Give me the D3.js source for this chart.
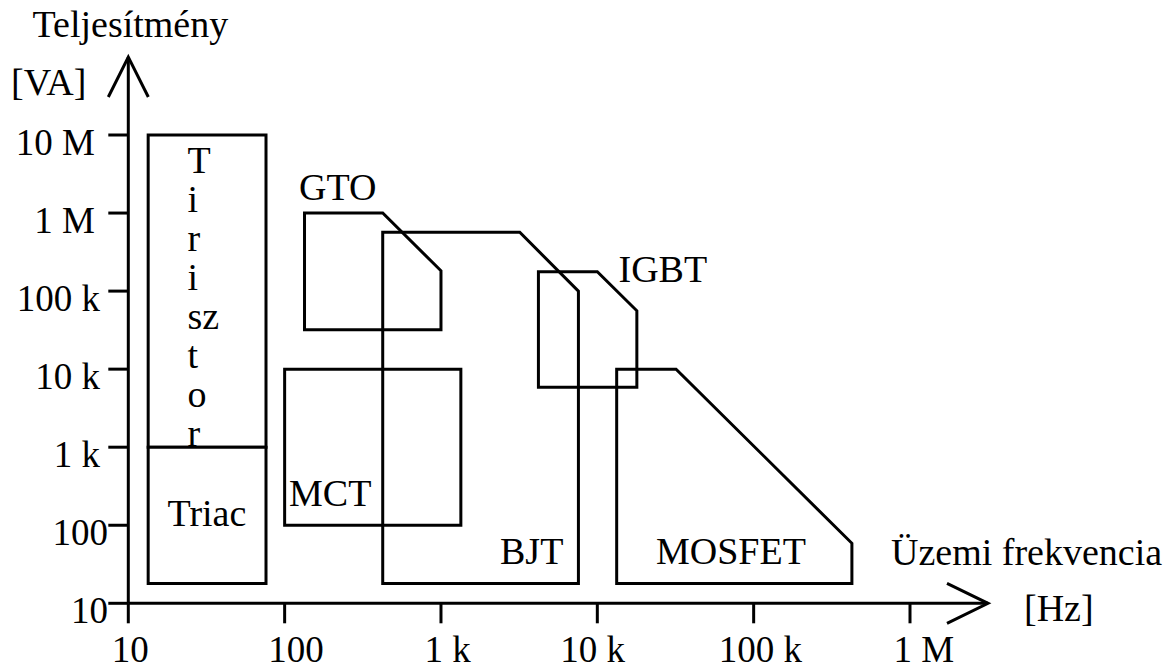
<!DOCTYPE html>
<html>
<head>
<meta charset="utf-8">
<script src="https://cdn.jsdelivr.net/npm/d3@7"></script>
<style>
  html, body { margin: 0; padding: 0; background: #fff; }
  svg { display: block; }
  text { font-family: "Liberation Serif", "Times New Roman", serif; fill: #000; }
</style>
</head>
<body>
<svg id="chart" width="1173" height="668"></svg>
<script>
// Operating frequency ticks [Hz]
const freqTicks = [10, 100, 1e3, 1e4, 1e5, 1e6];
const freqTickLabels = ["10", "100", "1 k", "10 k", "100 k", "1 M"];

// Power ticks [VA]
const powerTicks = [10, 100, 1e3, 1e4, 1e5, 1e6, 1e7];
const powerTickLabels = ["10", "100", "1 k", "10 k", "100 k", "1 M", "10 M"];

// Device operating regions as outlines of [frequency Hz, power VA]
const tirisztor = [[13.4, 1e3], [13.4, 1e7], [76, 1e7], [76, 1e3]];
const triac = [[13.4, 18], [13.4, 1e3], [76, 1e3], [76, 18]];
const gto = [[134, 3.2e4], [134, 1e6], [424, 1e6], [1000, 1.82e5], [1000, 3.2e4]];
const bjt = [[424, 18], [424, 5.67e5], [3190, 5.67e5], [7570, 1e5], [7570, 18]];
const mct = [[100, 100], [100, 1e4], [1340, 1e4], [1340, 100]];
const igbt = [[4200, 5850], [4200, 1.77e5], [1e4, 1.77e5], [1.79e4, 5.6e4], [1.79e4, 5850]];
const mosfet = [[1.33e4, 18], [1.33e4, 1e4], [3.19e4, 1e4], [4.25e5, 58.7], [4.25e5, 18]];

const tirisztorLetters = ["T", "i", "r", "i", "sz", "t", "o", "r"];

const svg = d3.select("#chart");

const x = d3.scaleLog().domain([10, 1e6]).range([128.3, 910]);
const y = d3.scaleLog().domain([10, 1e7]).range([603.3, 135]);

const ink = "#000";
const lw = 3;

// Outlines of the regions
const outline = d3.line().x(d => x(d[0])).y(d => y(d[1]));
const shapes = svg.append("g")
  .attr("fill", "none")
  .attr("stroke", ink)
  .attr("stroke-width", lw)
  .attr("stroke-linejoin", "miter");

[tirisztor, gto, bjt, mct, igbt, mosfet].forEach(pts => {
  shapes.append("path").attr("d", outline(pts) + "Z");
});

// Vertical "Tirisztor" lettering inside the thyristor box
const letterG = svg.append("g").attr("font-size", 38);
letterG.selectAll("text")
  .data(tirisztorLetters)
  .join("text")
  .attr("x", 187.5)
  .attr("y", (d, i) => 173 + i * 39)
  .text(d => d);

// Triac box sits on top of the lettering
svg.append("path")
  .attr("d", outline(triac) + "Z")
  .attr("fill", "#fff")
  .attr("stroke", ink)
  .attr("stroke-width", lw);

// Axes
const axes = svg.append("g")
  .attr("stroke", ink)
  .attr("stroke-width", lw)
  .attr("fill", "none");

const x0 = x(10), y0 = y(10);
const xEnd = 988, yEnd = 57;

axes.append("line").attr("x1", x0).attr("y1", y0).attr("x2", xEnd).attr("y2", y0);
axes.append("line").attr("x1", x0).attr("y1", y0).attr("x2", x0).attr("y2", yEnd);

// Open arrowheads
axes.append("path").attr("d", `M${xEnd - 41},${y0 - 20}L${xEnd},${y0}L${xEnd - 41},${y0 + 20}`)
  .attr("stroke-linejoin", "miter");
axes.append("path").attr("d", `M${x0 - 20},${yEnd + 40}L${x0},${yEnd}L${x0 + 20},${yEnd + 40}`)
  .attr("stroke-linejoin", "miter");

// Ticks
axes.selectAll(".xt").data(freqTicks).join("line")
  .attr("x1", d => x(d)).attr("x2", d => x(d))
  .attr("y1", y0).attr("y2", y0 + 20);
axes.selectAll(".yt").data(powerTicks).join("line")
  .attr("y1", d => y(d)).attr("y2", d => y(d))
  .attr("x1", x0 - 20).attr("x2", x0);

// Tick labels
const xLabelShift = { "10 k": -37, "100 k": -35 };
svg.append("g").attr("font-size", 37)
  .selectAll("text").data(freqTicks).join("text")
  .attr("x", (d, i) => x(d) + (xLabelShift[freqTickLabels[i]] ?? -16.5))
  .attr("y", 662)
  .text((d, i) => freqTickLabels[i]);

svg.append("g").attr("font-size", 37).attr("text-anchor", "end")
  .selectAll("text").data(powerTicks).join("text")
  .attr("x", (d, i) => {
    const t = powerTickLabels[i];
    if (t.endsWith("M")) return 95;
    if (t.endsWith("k")) return 100;
    return 108;
  })
  .attr("y", d => y(d) + 19.5)
  .text((d, i) => powerTickLabels[i]);

// Axis titles and device names
const labels = [
  { t: "Teljesítmény", x: 32.5, y: 36.5 },
  { t: "[VA]", x: 11, y: 95 },
  { t: "Üzemi frekvencia", x: 891, y: 565 },
  { t: "[Hz]", x: 1024, y: 621 },
  { t: "GTO", x: 299, y: 200 },
  { t: "IGBT", x: 618.5, y: 281.5 },
  { t: "MCT", x: 289, y: 506 },
  { t: "BJT", x: 500, y: 564 },
  { t: "MOSFET", x: 656, y: 564 },
  { t: "Triac", x: 167.5, y: 526 }
];
svg.append("g").attr("font-size", 38)
  .selectAll("text").data(labels).join("text")
  .attr("x", d => d.x).attr("y", d => d.y)
  .text(d => d.t);
</script>
</body>
</html>
